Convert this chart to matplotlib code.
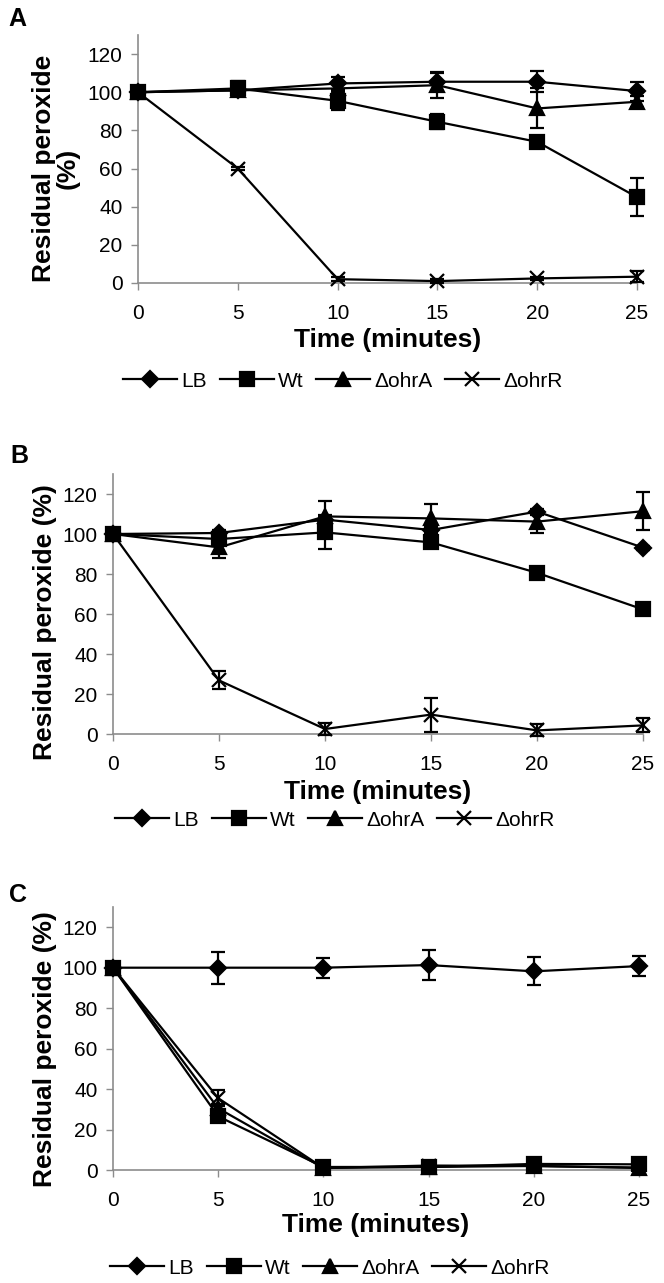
import matplotlib
matplotlib.use("Agg")
import matplotlib.pyplot as plt
from matplotlib.lines import Line2D

plt.rcParams['font.family'] = ['Liberation Sans', 'DejaVu Sans']

W, H = 664, 1283

tempo = [0, 5, 10, 15, 20, 25]
series = ["LB", "Wt", "ΔohrA", "ΔohrR"]
markers = ["D", "s", "^", "x"]
msizes = [8.5, 10, 10, 10]

# painel A
a_lb = [100, 101, 104.6, 105.5, 105.5, 100.6]
a_wt = [100, 102, 95.5, 84.5, 74, 45]
a_ohra = [100, 101, 102, 103.7, 91.5, 95]
a_ohrr = [100, 60, 2, 1, 2.4, 3.3]
a_lb_err = [0, 2, 3.5, 5, 5.5, 5]
a_wt_err = [0, 4, 5, 4, 3, 10]
a_ohra_err = [0, 3, 3, 6.5, 10.5, 3]
a_ohrr_err = [0, 1, 1, 1, 1, 3]

# painel B
b_lb = [100, 100.5, 107.2, 102, 111.2, 93.2]
b_wt = [100, 97.5, 100.8, 95.8, 80.6, 62.3]
b_ohra = [100, 93.3, 108.8, 107.8, 106.2, 111.4]
b_ohrr = [100, 26.8, 2.5, 9.7, 1.8, 4.3]
b_lb_err = [0, 1.5, 1.5, 1.5, 1.5, 1]
b_wt_err = [0, 2, 8.5, 1.5, 1.5, 1.5]
b_ohra_err = [0, 5.5, 7.5, 7, 5.5, 9.5]
b_ohrr_err = [0, 4.5, 3, 8.5, 3, 3.5]

# painel C
c_lb = [100, 100, 100, 101.3, 98.2, 100.8]
c_wt = [100, 26.5, 1.5, 1.5, 3, 2.8]
c_ohra = [100, 30.5, 1, 1.5, 2, 1]
c_ohrr = [100, 35.5, 1, 2.2, 2, 1.2]
c_lb_err = [0, 8, 5, 7.5, 7, 5]
c_wt_err = [0, 2, 1, 1, 1, 1]
c_ohra_err = [0, 2, 1, 1, 1, 1]
c_ohrr_err = [0, 4, 1, 1.5, 1, 1]

paineis = [
    ("A", [a_lb, a_wt, a_ohra, a_ohrr], [a_lb_err, a_wt_err, a_ohra_err, a_ohrr_err]),
    ("B", [b_lb, b_wt, b_ohra, b_ohrr], [b_lb_err, b_wt_err, b_ohra_err, b_ohrr_err]),
    ("C", [c_lb, c_wt, c_ohra, c_ohrr], [c_lb_err, c_wt_err, c_ohra_err, c_ohrr_err]),
]

# layout em pixels: esquerda, direita, y do zero, y do topo (130)
layout = {
    "A": dict(l=138, r=637, y0=283, yt=35, lab=(8, 19), ylab=(56, 168), two=True,
              xl=340, leg=381, legx=343),
    "B": dict(l=113, r=643, y0=734, yt=474, lab=(10, 456), ylab=(45, 622), two=False,
              xl=792, leg=820, legx=335),
    "C": dict(l=113, r=639, y0=1170, yt=907, lab=(9, 895), ylab=(45, 1049), two=False,
              xl=1225, leg=1268, legx=330),
}

fig = plt.figure(figsize=(W / 100, H / 100), dpi=100)
cinza = "#8c8c8c"

for nome, valores, erros in paineis:
    p = layout[nome]
    ax = fig.add_axes([p["l"] / W, 1 - p["y0"] / H, (p["r"] - p["l"]) / W, (p["y0"] - p["yt"]) / H])
    for i in range(4):
        ax.errorbar(tempo, valores[i], yerr=erros[i], color="black", lw=1.6,
                    marker=markers[i], ms=msizes[i], mew=1.6, capsize=5, capthick=1.6,
                    elinewidth=1.6, clip_on=False, zorder=3)
    ax.set_xlim(0, 25)
    ax.set_ylim(0, 130)
    ax.set_xticks(tempo)
    ax.set_yticks(range(0, 121, 20))
    for s in ["top", "right"]:
        ax.spines[s].set_visible(False)
    for s in ["left", "bottom"]:
        ax.spines[s].set_color(cinza)
        ax.spines[s].set_linewidth(1.2)
    ax.tick_params(axis="x", direction="out", length=5, width=1, color=cinza, pad=10, labelsize=15)
    ax.tick_params(axis="y", direction="out", length=5, width=1, color=cinza, pad=6, labelsize=15)

    fig.text(p["lab"][0] / W, 1 - p["lab"][1] / H, nome, fontsize=18, fontweight="bold",
             ha="left", va="center")
    ylabel = "Residual peroxide\n(%)" if p["two"] else "Residual peroxide (%)"
    fig.text(p["ylab"][0] / W, 1 - p["ylab"][1] / H, ylabel, fontsize=19, fontweight="bold",
             rotation=90, ha="center", va="center", multialignment="center", linespacing=1.0)
    fig.text((p["l"] + p["r"]) / 2 / W, 1 - p["xl"] / H, "Time (minutes)", fontsize=19,
             fontweight="bold", ha="center", va="center")

    handles = [Line2D([], [], color="black", lw=1.6, marker=markers[i], ms=msizes[i], mew=1.6)
               for i in range(4)]
    fig.legend(handles, series, ncol=4, frameon=False, loc="center",
               bbox_to_anchor=(p["legx"] / W, 1 - p["leg"] / H), fontsize=15,
               handlelength=2.6, handletextpad=0.2, columnspacing=0.6, borderpad=0)

fig.savefig("out.png", dpi=100)
